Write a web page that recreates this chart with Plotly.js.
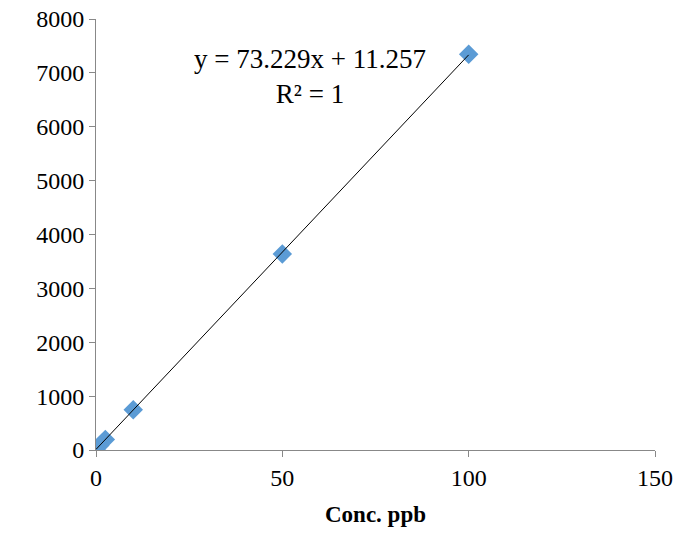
<!DOCTYPE html><html><head><script src="https://cdn.plot.ly/plotly-3.0.1.min.js"></script></head><body style="margin:0">
<div id="c" style="width:684px;height:548px"></div>
<script>
const conc=[0,1,2.5,10,50,100];
const signal=[11,85,195,745,3640,7345];
const slope=73.229, intercept=11.257;
const fitX=[0,100];
const fitY=fitX.map(x=>slope*x+intercept);
Plotly.newPlot('c',[
{x:conc,y:signal,mode:'markers',type:'scatter',marker:{symbol:'diamond',size:15,color:'#5b9bd5'}},
{x:fitX,y:fitY,mode:'lines',type:'scatter',line:{color:'black',width:1}}
],{
width:684,height:548,showlegend:false,paper_bgcolor:'white',plot_bgcolor:'white',
margin:{l:96,r:29,t:19,b:98},
font:{family:'Liberation Serif',size:24,color:'black'},
xaxis:{range:[0,150],dtick:50,showgrid:false,zeroline:false,showline:true,linecolor:'#888',ticks:'outside',tickcolor:'#888',ticklen:6,
title:{text:'<b>Conc. ppb</b>',font:{size:23},standoff:16}},
yaxis:{range:[0,8000],dtick:1000,showgrid:false,zeroline:false,showline:true,linecolor:'#888',ticks:'outside',tickcolor:'#888',ticklen:6},
annotations:[{x:57.5,y:6300,xref:'x',yref:'y',text:'y = 73.229x + 11.257<br>R² = 1',showarrow:false,font:{size:27},align:'center',yanchor:'bottom'}]
},{displayModeBar:false});
</script></body></html>
